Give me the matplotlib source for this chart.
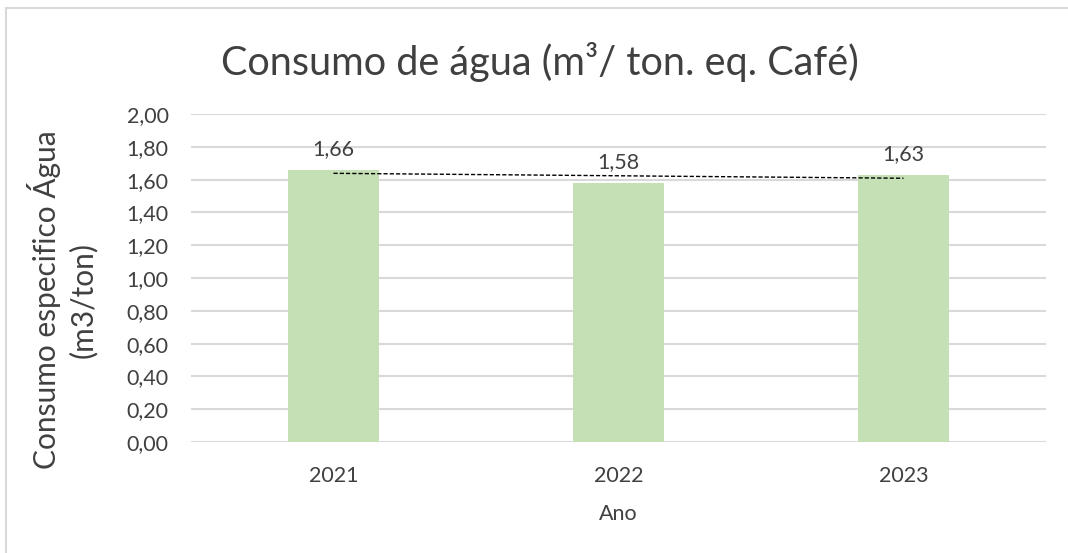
import numpy as np
import matplotlib.pyplot as plt
from matplotlib.patches import Rectangle

# data
anos = ['2021', '2022', '2023']
consumo = [1.66, 1.58, 1.63]
y_ticks = [0.0, 0.2, 0.4, 0.6, 0.8, 1.0, 1.2, 1.4, 1.6, 1.8, 2.0]

plt.rcParams['font.family'] = ['Lato', 'DejaVu Sans']
txt = '#404040'

fig = plt.figure(figsize=(10.68, 5.53), dpi=100)
ax = fig.add_axes([191 / 1068, 1 - 442 / 553, 855 / 1068, 328 / 553])

x = np.arange(len(anos))
ax.bar(x, consumo, width=0.316, color='#C5E0B4', zorder=2)

# linear trendline (Excel style)
coef = np.polyfit(x, consumo, 1)
ax.plot(x, np.polyval(coef, x), color='black', linestyle=(0, (3, 1.5)),
        linewidth=1, zorder=3)

for xi, v in zip(x, consumo):
    ax.text(xi, v + 0.065, f'{v:.2f}'.replace('.', ','), ha='center',
            va='bottom', fontsize=15.5, color=txt)

ax.set_xlim(-0.5, 2.5)
ax.set_ylim(0, 2.0)
ax.set_yticks(y_ticks)
ax.set_yticklabels([f'{t:.2f}'.replace('.', ',') for t in y_ticks])
ax.set_xticks(x)
ax.set_xticklabels(anos)
ax.tick_params(axis='both', length=0, labelsize=15.5, labelcolor=txt)
ax.tick_params(axis='y', pad=16)
ax.tick_params(axis='x', pad=17)
ax.grid(axis='y', color='#D9D9D9', linewidth=1.5, zorder=0)
for s in ax.spines.values():
    s.set_visible(False)

ax.set_xlabel('Ano', fontsize=15.5, color=txt, labelpad=13)
ax.set_ylabel('Consumo especifico Água\n(m3/ton)', fontsize=21.5, color=txt,
              linespacing=1.3)
ax.yaxis.set_label_coords(-0.110, 0.433)
fig.text(540 / 1068, 1 - 62 / 553, 'Consumo de água (m³/ ton. eq. Café)',
         ha='center', va='center', fontsize=28.5, color=txt)

# chart border
fig.patches.append(Rectangle((6 / 1068, -0.1), 1.2, 1 - 8 / 553 + 0.1,
                             transform=fig.transFigure, fill=False,
                             edgecolor='#D9D9D9', linewidth=1.5))

plt.savefig('out.png', dpi=100)
